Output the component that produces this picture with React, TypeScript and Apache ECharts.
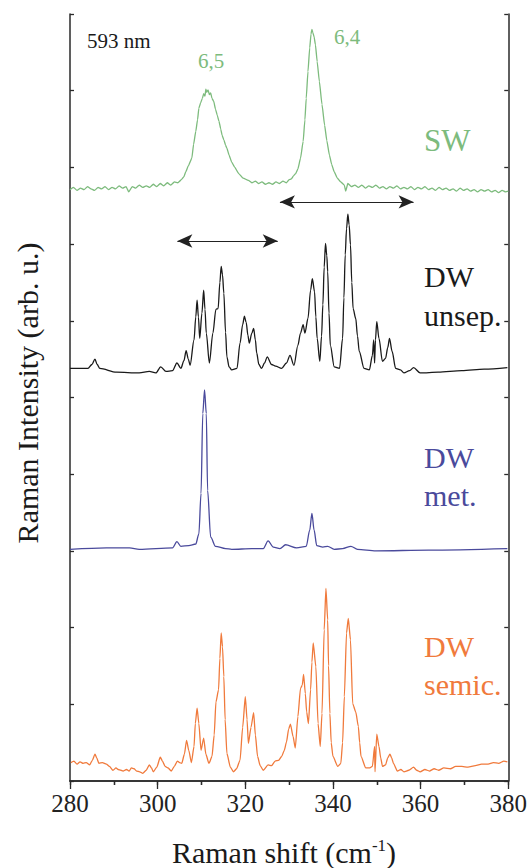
import React, { useEffect, useRef } from "react";
import * as echarts from "echarts";

// Raman shift (cm^-1), intensity (arb. u., stacked offsets)
const swSpectrum: [number, number][] = [
  [280.0, 7.71], [280.8, 7.74], [281.6, 7.7], [282.4, 7.73], [283.2, 7.71], [284.0, 7.75], [284.8, 7.72],
  [285.6, 7.7], [286.4, 7.74], [287.2, 7.72], [288.0, 7.75], [288.8, 7.71], [289.6, 7.74], [290.4, 7.72],
  [291.2, 7.76], [292.0, 7.73], [292.8, 7.75], [293.4, 7.68], [294.2, 7.75], [295.0, 7.73], [295.8, 7.77],
  [296.6, 7.74], [297.4, 7.76], [298.2, 7.74], [299.0, 7.78], [299.8, 7.75], [300.6, 7.79], [301.4, 7.76],
  [302.2, 7.8], [303.0, 7.77], [303.8, 7.81], [304.6, 7.8], [305.4, 7.84], [306.0, 7.88], [306.4, 7.94],
  [307.0, 8.02], [307.8, 8.12], [308.2, 8.3], [308.7, 8.47], [309.1, 8.62], [309.4, 8.77], [309.8, 8.84],
  [310.2, 8.9], [310.5, 8.96], [310.8, 8.93], [311.0, 9.02], [311.2, 8.98], [311.5, 9.01], [311.8, 8.95],
  [312.1, 8.97], [312.4, 8.9], [312.8, 8.86], [313.2, 8.76], [313.6, 8.68], [314.0, 8.6], [314.4, 8.5],
  [314.7, 8.42], [315.1, 8.36], [315.5, 8.29], [315.8, 8.25], [316.3, 8.16], [316.9, 8.07], [317.6, 8.0],
  [318.5, 7.92], [319.5, 7.86], [320.7, 7.83], [321.5, 7.8], [322.3, 7.82], [323.0, 7.79], [323.8, 7.81],
  [324.6, 7.78], [325.4, 7.8], [326.2, 7.78], [327.0, 7.81], [327.8, 7.79], [328.6, 7.82], [329.4, 7.8],
  [330.0, 7.84], [330.5, 7.85], [331.0, 7.89], [331.5, 7.92], [332.0, 7.98], [332.6, 8.12], [333.2, 8.34],
  [333.6, 8.62], [333.9, 8.9], [334.3, 9.25], [334.7, 9.56], [335.0, 9.74], [335.2, 9.8], [335.4, 9.76],
  [335.7, 9.7], [336.0, 9.6], [336.4, 9.38], [336.9, 9.12], [337.5, 8.82], [338.1, 8.55], [338.6, 8.35],
  [339.2, 8.16], [339.7, 8.04], [340.3, 7.94], [341.0, 7.86], [341.8, 7.81], [342.6, 7.77], [342.9, 7.69],
  [343.4, 7.79], [344.2, 7.75], [345.0, 7.77], [345.8, 7.74], [346.6, 7.77], [347.4, 7.73], [348.2, 7.76],
  [349.0, 7.74], [349.8, 7.77], [350.6, 7.73], [351.4, 7.75], [352.2, 7.72], [353.0, 7.75], [353.8, 7.73],
  [354.6, 7.76], [355.4, 7.72], [356.2, 7.74], [357.0, 7.72], [357.8, 7.75], [358.6, 7.71], [359.4, 7.74],
  [360.2, 7.72], [361.0, 7.75], [361.8, 7.71], [362.6, 7.73], [363.4, 7.7], [364.2, 7.74], [365.0, 7.71],
  [365.8, 7.73], [366.6, 7.7], [367.4, 7.72], [368.2, 7.69], [369.0, 7.73], [369.8, 7.7], [370.6, 7.72],
  [371.4, 7.69], [372.2, 7.71], [373.0, 7.68], [373.8, 7.71], [374.6, 7.69], [375.4, 7.71], [376.2, 7.68],
  [377.0, 7.7], [377.8, 7.67], [378.6, 7.7], [379.4, 7.68], [380.0, 7.69],
];

const dwUnsepSpectrum: [number, number][] = [
  [280.0, 5.38], [284.1, 5.38], [285.0, 5.43], [285.7, 5.5], [286.2, 5.43], [286.8, 5.38], [290.6, 5.33],
  [295.8, 5.32], [298.1, 5.34], [299.6, 5.32], [300.7, 5.4], [301.9, 5.34], [303.4, 5.35], [304.4, 5.45],
  [305.3, 5.38], [306.0, 5.48], [306.5, 5.61], [307.0, 5.5], [307.4, 5.42], [308.3, 5.75], [308.7, 6.05],
  [309.0, 6.27], [309.3, 6.05], [309.6, 5.77], [310.1, 6.1], [310.5, 6.4], [310.8, 6.15], [311.1, 5.84],
  [311.8, 5.45], [312.6, 5.84], [313.3, 6.15], [313.8, 6.16], [314.2, 6.5], [314.5, 6.71], [314.8, 6.6],
  [315.1, 6.36], [315.5, 5.85], [315.8, 5.53], [316.3, 5.4], [316.9, 5.36], [318.1, 5.38], [318.8, 5.71],
  [319.4, 5.95], [319.8, 6.06], [320.2, 5.98], [320.6, 5.81], [320.9, 5.71], [321.5, 5.84], [321.9, 5.9],
  [322.3, 5.75], [322.6, 5.58], [323.1, 5.43], [323.7, 5.38], [324.4, 5.45], [325.0, 5.53], [326.0, 5.43],
  [326.9, 5.41], [328.3, 5.38], [329.4, 5.45], [330.2, 5.55], [331.1, 5.42], [332.0, 5.68], [332.6, 5.84],
  [333.2, 5.95], [333.6, 5.84], [334.3, 6.03], [334.9, 6.4], [335.3, 6.55], [335.8, 6.38], [336.1, 6.05],
  [336.4, 5.77], [337.0, 5.47], [337.4, 5.8], [337.7, 6.21], [338.0, 6.7], [338.3, 7.01], [338.6, 6.85],
  [338.8, 6.64], [339.1, 6.1], [339.4, 5.68], [340.3, 5.4], [341.5, 5.38], [342.2, 5.77], [342.5, 6.3],
  [342.8, 6.86], [343.1, 7.2], [343.4, 7.39], [343.7, 7.25], [344.0, 6.99], [344.3, 6.5], [344.6, 6.16],
  [345.2, 6.03], [345.6, 5.8], [346.0, 5.6], [347.1, 5.38], [348.3, 5.36], [349.0, 5.55], [349.3, 5.75],
  [349.5, 5.45], [349.7, 5.75], [350.0, 5.99], [350.5, 5.77], [351.3, 5.47], [352.0, 5.51], [352.5, 5.65],
  [352.9, 5.77], [353.5, 5.6], [354.3, 5.38], [355.4, 5.36], [356.2, 5.32], [357.5, 5.35], [358.4, 5.39],
  [359.9, 5.32], [364.0, 5.33], [369.4, 5.35], [374.5, 5.37], [379.8, 5.39],
];

const dwMetSpectrum: [number, number][] = [
  [280.0, 3.02], [288.3, 3.04], [293.6, 3.04], [295.8, 3.02], [303.4, 3.04], [304.4, 3.12], [305.3, 3.06],
  [307.1, 3.07], [308.7, 3.09], [309.4, 3.22], [309.9, 3.75], [310.3, 4.79], [310.7, 5.1], [311.1, 4.79],
  [311.4, 3.79], [312.1, 3.18], [313.2, 3.06], [315.5, 3.03], [316.9, 3.02], [321.5, 3.03], [324.1, 3.03],
  [325.2, 3.13], [326.4, 3.05], [327.9, 3.03], [329.2, 3.08], [331.7, 3.04], [333.9, 3.06], [334.7, 3.27],
  [335.2, 3.49], [335.7, 3.27], [336.3, 3.07], [337.7, 3.05], [338.8, 3.06], [340.3, 3.02], [342.2, 3.03],
  [344.1, 3.06], [345.6, 3.02], [349.8, 3.0], [361.8, 3.01], [379.8, 3.03],
];

const dwSemicSpectrum: [number, number][] = [
  [280.2, 0.24], [280.9, 0.26], [281.6, 0.22], [282.3, 0.25], [283.0, 0.23], [283.7, 0.24], [284.5, 0.21],
  [285.1, 0.27], [285.7, 0.35], [286.1, 0.3], [286.6, 0.23], [287.4, 0.24], [288.3, 0.22], [289.0, 0.19],
  [289.8, 0.14], [290.5, 0.17], [291.0, 0.15], [291.6, 0.14], [292.1, 0.13], [292.9, 0.15], [293.5, 0.13],
  [294.0, 0.17], [294.6, 0.16], [295.2, 0.13], [295.9, 0.12], [296.6, 0.1], [297.4, 0.14], [298.1, 0.21],
  [298.6, 0.17], [299.0, 0.12], [299.8, 0.18], [300.6, 0.31], [301.1, 0.26], [301.7, 0.19], [302.4, 0.17],
  [303.1, 0.13], [303.8, 0.19], [304.5, 0.26], [305.0, 0.24], [305.5, 0.23], [306.1, 0.35], [306.6, 0.53],
  [307.1, 0.4], [307.7, 0.24], [308.3, 0.45], [308.6, 0.75], [309.0, 0.95], [309.4, 0.75], [309.9, 0.4],
  [310.5, 0.56], [311.0, 0.35], [311.7, 0.23], [312.4, 0.32], [312.9, 0.6], [313.3, 1.03], [313.9, 1.19],
  [314.2, 1.6], [314.5, 1.93], [314.8, 1.75], [315.1, 1.36], [315.4, 0.8], [315.8, 0.36], [316.6, 0.18],
  [317.3, 0.12], [318.0, 0.16], [318.8, 0.27], [319.4, 0.7], [320.0, 1.1], [320.4, 0.8], [320.7, 0.49],
  [321.3, 0.7], [321.9, 0.89], [322.3, 0.6], [322.8, 0.32], [323.4, 0.2], [324.1, 0.14], [325.2, 0.21],
  [326.0, 0.2], [326.8, 0.26], [327.6, 0.27], [328.3, 0.32], [328.9, 0.4], [329.4, 0.51], [329.9, 0.68],
  [330.3, 0.74], [330.9, 0.58], [331.4, 0.43], [332.0, 0.84], [332.6, 1.21], [333.0, 1.25], [333.3, 1.39],
  [333.7, 1.14], [334.0, 0.9], [334.4, 0.75], [334.9, 1.19], [335.2, 1.55], [335.5, 1.8], [336.1, 1.49],
  [336.6, 0.75], [337.1, 0.45], [337.5, 0.88], [338.0, 1.97], [338.4, 2.51], [338.8, 2.1], [339.0, 1.5],
  [339.3, 0.88], [339.6, 0.5], [340.0, 0.32], [341.1, 0.19], [341.8, 0.23], [342.2, 0.5], [342.6, 1.1],
  [343.1, 1.93], [343.5, 2.12], [344.0, 1.84], [344.5, 1.01], [345.2, 0.9], [345.8, 0.71], [346.1, 0.5],
  [346.4, 0.32], [347.5, 0.17], [348.3, 0.17], [349.0, 0.19], [349.5, 0.45], [349.6, 0.12], [350.0, 0.61],
  [350.5, 0.45], [350.9, 0.3], [351.3, 0.19], [352.0, 0.21], [352.5, 0.3], [353.0, 0.35], [353.4, 0.3],
  [353.8, 0.23], [354.7, 0.13], [355.5, 0.15], [356.2, 0.12], [357.3, 0.14], [358.4, 0.18], [359.1, 0.14],
  [359.9, 0.12], [361.0, 0.15], [362.0, 0.13], [363.1, 0.16], [364.1, 0.14], [365.3, 0.17], [366.8, 0.16],
  [368.0, 0.19], [369.4, 0.19], [370.8, 0.18], [372.5, 0.2], [373.9, 0.22], [375.4, 0.22], [376.6, 0.24],
  [377.8, 0.23], [379.0, 0.26], [379.8, 0.25],
];

// double-headed arrows: [from, to, level]
const arrowSpans: [number, number, number][] = [
  [327.9, 358.4, 7.55],
  [304.5, 327.4, 7.04],
];

const xTickLabels = [280, 300, 320, 340, 360, 380];

const GREEN = "#7dbb7d";
const BLACK = "#1a1a1a";
const BLUE = "#4a4a9c";
const ORANGE = "#f07a3c";
const FONT = "'Liberation Serif', 'Times New Roman', 'DejaVu Serif', serif";

export default function App() {
  const ref = useRef<HTMLDivElement>(null);
  useEffect(() => {
    if (!ref.current) return;
    const chart = echarts.init(ref.current, undefined, { renderer: "svg" });
    const axisLine = { show: true, lineStyle: { color: "#2a2a2a", width: 1.5 } };
    const tickStyle = { color: "#2a2a2a", width: 1.3 };
    const lineSeries = (name: string, data: [number, number][], color: string, extra: any = {}) => ({
      name,
      type: "line",
      data,
      showSymbol: false,
      symbol: "none",
      smooth: 0.3,
      smoothMonotone: "x",
      lineStyle: { color, width: 1.3 },
      itemStyle: { color },
      z: 3,
      ...extra,
    });
    const textEl = (text: string, x: number, y: number, color: string, size: number, align = "left") => ({
      type: "text",
      x,
      y,
      style: { text, fill: color, fontFamily: FONT, fontSize: size, align, verticalAlign: "middle" },
      z: 10,
    });
    chart.setOption({
      animation: false,
      grid: { left: 70, right: 18, top: 14, bottom: 87 },
      xAxis: [
        {
          type: "value",
          min: 280,
          max: 380,
          interval: 20,
          position: "bottom",
          axisLine,
          splitLine: { show: false },
          axisTick: { show: true, inside: false, length: 8, lineStyle: tickStyle },
          minorTick: { show: true, splitNumber: 2, length: 4, lineStyle: tickStyle },
          axisLabel: {
            show: true,
            margin: 10,
            color: "#222",
            fontFamily: FONT,
            fontSize: 25,
            formatter: (v: number) => (xTickLabels.includes(v) ? String(v) : ""),
          },
        },
        {
          type: "value",
          min: 280,
          max: 380,
          interval: 10,
          position: "top",
          axisLine,
          splitLine: { show: false },
          axisTick: { show: true, inside: true, length: 4, lineStyle: tickStyle },
          axisLabel: { show: false },
        },
      ],
      yAxis: [
        {
          type: "value",
          min: 0,
          max: 10,
          interval: 1,
          position: "left",
          axisLine,
          splitLine: { show: false },
          axisTick: { show: true, inside: true, length: 4, lineStyle: tickStyle },
          axisLabel: { show: false },
        },
        {
          type: "value",
          min: 0,
          max: 10,
          interval: 1,
          position: "right",
          axisLine,
          splitLine: { show: false },
          axisTick: { show: true, inside: true, length: 4, lineStyle: tickStyle },
          axisLabel: { show: false },
        },
      ],
      series: [
        lineSeries("SW", swSpectrum, GREEN, { smooth: 0.15 }),
        lineSeries("DW unsep.", dwUnsepSpectrum, BLACK, {
          markLine: {
            silent: true,
            animation: false,
            symbol: ["arrow", "arrow"],
            symbolSize: [10, 15],
            label: { show: false },
            lineStyle: { color: "#222", width: 1.2, type: "solid" },
            emphasis: { disabled: true },
            data: arrowSpans.map(([a, b, lvl]) => [{ coord: [a, lvl] }, { coord: [b, lvl] }]),
          },
        }),
        lineSeries("DW met.", dwMetSpectrum, BLUE),
        lineSeries("DW semic.", dwSemicSpectrum, ORANGE, { smooth: 0.2 }),
      ],
      graphic: [
        textEl("593 nm", 87, 41, "#1a1a1a", 21),
        textEl("6,5", 211, 61, GREEN, 21, "center"),
        textEl("6,4", 347, 37, GREEN, 21, "center"),
        textEl("SW", 424, 140, GREEN, 31),
        textEl("DW", 424, 276, BLACK, 30),
        textEl("unsep.", 424, 315, BLACK, 30),
        textEl("DW", 424, 457, BLUE, 30),
        textEl("met.", 424, 495, BLUE, 30),
        textEl("DW", 424, 646, ORANGE, 30),
        textEl("semic.", 424, 684, ORANGE, 30),
        {
          type: "text",
          x: 27,
          y: 393,
          rotation: Math.PI / 2,
          style: {
            text: "Raman Intensity (arb. u.)",
            fill: "#1a1a1a",
            fontFamily: FONT,
            fontSize: 30,
            align: "center",
            verticalAlign: "middle",
          },
        },
        {
          type: "text",
          x: 284,
          y: 852,
          style: {
            text: "Raman shift (cm{sup|-1})",
            fill: "#1a1a1a",
            fontFamily: FONT,
            fontSize: 30,
            align: "center",
            verticalAlign: "middle",
            rich: {
              sup: { fontSize: 17, fontFamily: FONT, fill: "#1a1a1a", verticalAlign: "top", lineHeight: 30, padding: [0, 0, 12, 0] },
            },
          },
        },
      ],
    });
    return () => chart.dispose();
  }, []);
  return <div ref={ref} style={{ position: "fixed", left: 0, top: 0, width: 530, height: 868, background: "#fff" }} />;
}
